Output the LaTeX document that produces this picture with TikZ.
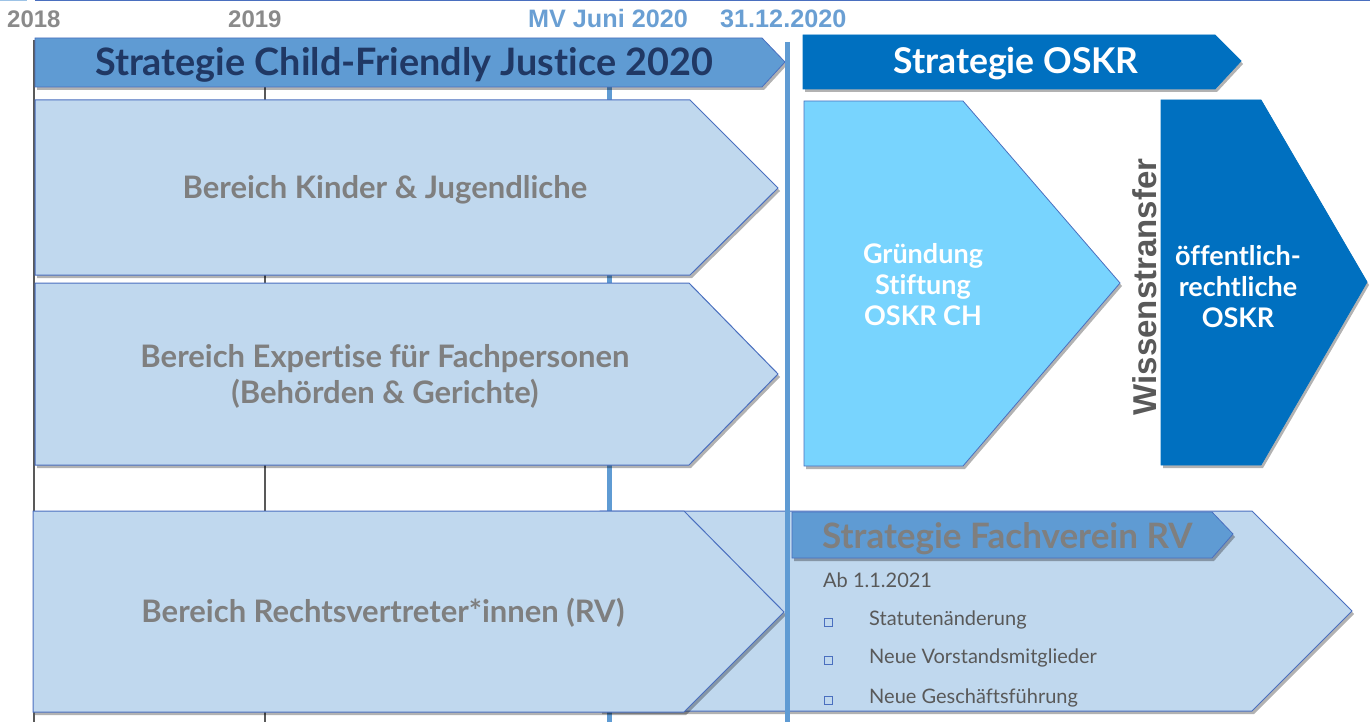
\documentclass[tikz,border=0pt]{standalone}
\usepackage{fontspec}
\setmainfont{Lato}[Ligatures={NoCommon}]
\newfontfamily\arialf{Liberation Sans}
\usetikzlibrary{shadows}
\definecolor{barblue}{HTML}{5F9BD3}
\definecolor{navy}{HTML}{203864}
\definecolor{pale}{HTML}{C0D8EE}
\definecolor{edgeblue}{HTML}{4A6FBF}
\definecolor{sky}{HTML}{78D4FE}
\definecolor{deep}{HTML}{0070C0}
\definecolor{txtgray}{HTML}{7F7F7F}
\definecolor{dgray}{HTML}{595959}
\definecolor{yeargray}{HTML}{8A8A8A}
\definecolor{dateblue}{HTML}{6A9FD3}
\definecolor{lineblue}{HTML}{5F9BD3}
\definecolor{topblue}{HTML}{4A6FBF}
\definecolor{toplight}{HTML}{9DC3E6}
\begin{document}
\begin{tikzpicture}[x=1pt,y=-1pt,
  shad/.style={drop shadow={shadow xshift=2pt,shadow yshift=-3pt,opacity=0.3,fill=black}},
  palearrow/.style={fill=pale,draw=edgeblue,line width=1pt,shad},
  barshape/.style={fill=barblue,draw=edgeblue,line width=0.8pt,shad},
  deepshape/.style={fill=deep,draw=deep,line width=0.8pt,shad},
  skyshape/.style={fill=sky,draw=edgeblue,line width=0.8pt,shad},
  yearlbl/.style={font=\arialf\bfseries\fontsize{24}{28}\selectfont,text=yeargray,inner sep=0pt,anchor=base west},
  datelbl/.style={font=\arialf\bfseries\fontsize{25.2}{28}\selectfont,text=dateblue,inner sep=0pt,anchor=base west},
  areatxt/.style={font=\bfseries\fontsize{31}{36}\selectfont,text=txtgray,inner sep=0pt,align=center},
  whitetxt/.style={font=\bfseries\fontsize{27}{31}\selectfont,text=white,inner sep=0pt,align=center},
  listtxt/.style={font=\fontsize{20}{22}\selectfont,text=dgray,inner sep=0pt,anchor=base west},
  bulletbox/.style={draw=edgeblue,line width=0.6pt,minimum size=8pt,inner sep=0pt},
  gridgray/.style={draw=dgray,line width=1.4pt},
  gridblue/.style={draw=lineblue,line width=5pt}
]
\useasboundingbox (0,0) rectangle (1370,722);
% top rule
\fill[toplight] (0,0) rectangle (27,1.5);
\fill[topblue] (35,0) rectangle (1370,1.5);
% grid lines behind
\coordinate (g1t) at (34,40); \coordinate (g1b) at (34,722);
\coordinate (g2t) at (265,40); \coordinate (g2b) at (265,722);
\coordinate (g3t) at (609,40); \coordinate (g3b) at (609,722);
\draw[gridgray] (g1t) -- (g1b);
\draw[gridgray] (g2t) -- (g2b);
\draw[gridblue] (g3t) -- (g3b);
% big bottom-right arrow
\draw[palearrow] (600,511) -- (1252,511) -- (1352,611) -- (1252,711) -- (600,711) -- cycle;
% RV arrow
\draw[palearrow] (33,511) -- (684,511) -- (784,612) -- (684,712) -- (33,712) -- cycle;
% Kinder & Jugendliche
\draw[palearrow] (35,100) -- (690,100) -- (778,188) -- (690,275) -- (35,275) -- cycle;
% Expertise
\draw[palearrow] (35,283) -- (689,283) -- (778,374) -- (689,465) -- (35,465) -- cycle;
% top bars
\draw[barshape] (35,38) -- (762,38) -- (785,62) -- (762,87) -- (35,87) -- cycle;
\draw[deepshape] (803,35) -- (1215,35) -- (1241,61) -- (1215,89) -- (803,89) -- cycle;
% Gruendung
\draw[skyshape] (804,101) -- (963,101) -- (1120,283) -- (963,466) -- (804,466) -- cycle;
% oeffentlich-rechtliche
\draw[deepshape] (1161,100) -- (1261,100) -- (1367,282) -- (1261,465) -- (1161,465) -- cycle;
% Fachverein bar
\draw[barshape] (792,512) -- (1212,512) -- (1233,534) -- (1212,558) -- (792,558) -- cycle;
% front timeline line
\coordinate (g4t) at (787,42); \coordinate (g4b) at (787,722);
\draw[gridblue] (g4t) -- (g4b);
% year labels
\node[yearlbl] (y18) at (7,28) {2018};
\node[yearlbl] (y19) at (228,28) {2019};
\node[datelbl] (mv) at (528,28) {MV Juni 2020};
\node[datelbl] (d31) at (720,28) {31.12.2020};
% texts
\node[font=\bfseries\fontsize{37.8}{40}\selectfont,text=navy,inner sep=0pt,anchor=base] (cfj) at (404,76) {Strategie Child-Friendly Justice 2020};
\node[font=\bfseries\fontsize{35.5}{40}\selectfont,text=white,inner sep=0pt,anchor=base] (oskr) at (1016,74) {Strategie OSKR};
\node[areatxt,anchor=base] (kj) at (385,199) {Bereich Kinder \& Jugendliche};
\node[areatxt,anchor=center] (exp) at (385,376) {Bereich Expertise für Fachpersonen\\(Behörden \& Gerichte)};
\node[areatxt,anchor=base] (rv) at (383,622) {Bereich Rechtsvertreter*innen (RV)};
\node[whitetxt] (gr) at (923,285) {Gründung\\Stiftung\\OSKR CH};
\node[whitetxt] (oe) at (1238,287) {öffentlich-\\rechtliche\\OSKR};
\node[font=\arialf\bfseries\fontsize{33}{36}\selectfont,text=dgray,inner sep=0pt,rotate=90] (wt) at (1145,287) {Wissenstransfer};
\node[font=\bfseries\fontsize{35}{38}\selectfont,text=txtgray,inner sep=0pt,anchor=base west] (fv) at (822,548) {Strategie Fachverein RV};
\node[listtxt] (ab) at (823,587) {Ab 1.1.2021};
\node[bulletbox] (b1) at (828,622) {};
\node[bulletbox] (b2) at (828,660) {};
\node[bulletbox] (b3) at (828,700) {};
\node[listtxt] (l1) at (869,625) {Statutenänderung};
\node[listtxt] (l2) at (869,663) {Neue Vorstandsmitglieder};
\node[listtxt] (l3) at (869,703) {Neue Geschäftsführung};
\end{tikzpicture}
\end{document}
